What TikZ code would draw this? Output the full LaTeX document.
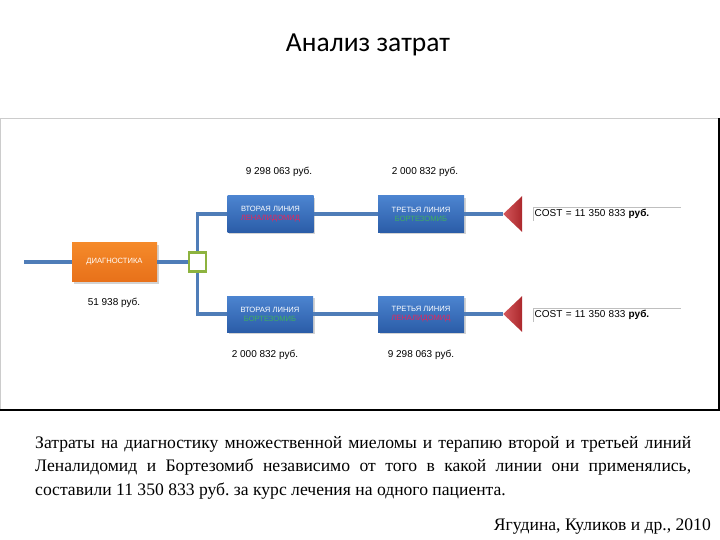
\documentclass[tikz,border=0pt]{standalone}
\usepackage{fontspec}
\setmainfont{Liberation Serif}
\newfontfamily\arialf{Liberation Sans}
\newfontfamily\titlef{Carlito}
\usetikzlibrary{shapes.geometric,shadows}
\definecolor{linec}{HTML}{4F7DB8}
\definecolor{boxtop}{HTML}{4C84D0}
\definecolor{boxbot}{HTML}{2B5DA8}
\definecolor{orgtop}{HTML}{F58A2A}
\definecolor{orgbot}{HTML}{E8711A}
\definecolor{redl}{HTML}{E8245A}
\definecolor{greenl}{HTML}{3FAE5F}
\definecolor{trired}{HTML}{C92E33}
\definecolor{sqgreen}{HTML}{8DB33F}
\tikzset{
  conn/.style={draw=linec,line width=3.2pt},
  bluebox/.style={rectangle,minimum width=86pt,minimum height=36pt,inner sep=0pt,
    top color=boxtop,bottom color=boxbot,draw=none,
    drop shadow={shadow xshift=1.5pt,shadow yshift=-2pt,opacity=0.35},
    align=center,text=white,font=\arialf\fontsize{7.6}{10}\selectfont},
  orangebox/.style={rectangle,minimum width=85pt,minimum height=39pt,inner sep=0pt,
    top color=orgtop,bottom color=orgbot,draw=none,
    drop shadow={shadow xshift=1.5pt,shadow yshift=-2pt,opacity=0.35},
    text=white,font=\arialf\fontsize{7.6}{9}\selectfont},
  costlbl/.style={font=\arialf\fontsize{10}{12}\selectfont,inner sep=0pt},
  tri/.style={isosceles triangle,shape border rotate=180,isosceles triangle stretches,
    minimum height=19pt,minimum width=36pt,inner sep=0pt,
    left color=trired!80!white,right color=trired!85!black,draw=none},
  costbox/.style={rectangle,text width=145pt,minimum height=13pt,inner sep=1.5pt,anchor=west,
    align=left,font=\arialf\fontsize{10}{12}\selectfont}
}
\begin{document}
\begin{tikzpicture}[x=1pt,y=-1pt]
\useasboundingbox (0,0) rectangle (720,540);
% frame
\draw[draw=black!20,line width=0.8pt] (0,410) -- (0,118) -- (719,118);
\draw[draw=black,line width=1.2pt] (719,118) -- (719,410) -- (0,410);
% title
\node[font=\titlef\fontsize{27.5}{30}\selectfont] (title) at (368,45) {Анализ затрат};
% nodes
\coordinate (start) at (24,262);
\node[orangebox] (diag) at (114.5,262) {ДИАГНОСТИКА};
\node[rectangle,draw=sqgreen,line width=2.4pt,fill=white,minimum width=17pt,minimum height=19pt,inner sep=0pt] (sq) at (197.5,262) {};
\node[bluebox] (b1) at (270.5,214) {ВТОРАЯ ЛИНИЯ\\[-1pt]{\color{redl}ЛЕНАЛИДОМИД}};
\node[bluebox] (b2) at (421,214) {ТРЕТЬЯ ЛИНИЯ\\[-1pt]{\color{greenl}БОРТЕЗОМИБ}};
\node[bluebox] (b3) at (270,314) {ВТОРАЯ ЛИНИЯ\\[-1pt]{\color{greenl}БОРТЕЗОМИБ}};
\node[bluebox] (b4) at (421,314) {ТРЕТЬЯ ЛИНИЯ\\[-1pt]{\color{redl}ЛЕНАЛИДОМИД}};
\node[tri] (t1) at (514.5,214) {};
\node[tri] (t2) at (514.5,314) {};
\node[costbox] (c1) at (533,214) {COST = 11 350 833 \textbf{руб.}};
\node[costbox] (c2) at (533,315) {COST = 11 350 833 \textbf{руб.}};
\foreach \c in {c1,c2}{
  \draw[black!25,line width=0.5pt] (\c.south west) -- (\c.north west) -- (\c.north east);
}
% labels
\node[costlbl] (l1) at (279,172) {9 298 063 руб.};
\node[costlbl] (l2) at (425,172) {2 000 832 руб.};
\node[costlbl] (l0) at (114,303) {51 938 руб.};
\node[costlbl] (l3) at (265,355) {2 000 832 руб.};
\node[costlbl] (l4) at (421,355) {9 298 063 руб.};
% connectors
\draw[conn] (start) -- (diag.west);
\draw[conn] (diag.east) -- (sq.west);
\draw[conn] (sq.north) |- (b1.west);
\draw[conn] (sq.south) |- (b3.west);
\draw[conn] (b1.east) -- (b2.west);
\draw[conn] (b3.east) -- (b4.west);
\draw[conn] (b2.east) -- (t1.apex);
\draw[conn] (b4.east) -- (t2.apex);
% text
\node[anchor=north west,text width=656pt,align=justify,inner sep=0pt,
  font=\fontsize{17.6}{23.5}\selectfont] (body) at (35,436)
  {Затраты на диагностику множественной миеломы и терапию второй и третьей линий Леналидомид и Бортезомиб независимо от того в какой линии они применялись, составили 11 350 833 руб.\ за курс лечения на одного пациента.};
\node[anchor=south east,inner sep=0pt,font=\fontsize{17.6}{20}\selectfont] (cite) at (711,534) {Ягудина, Куликов и др., 2010};
\end{tikzpicture}
\end{document}
